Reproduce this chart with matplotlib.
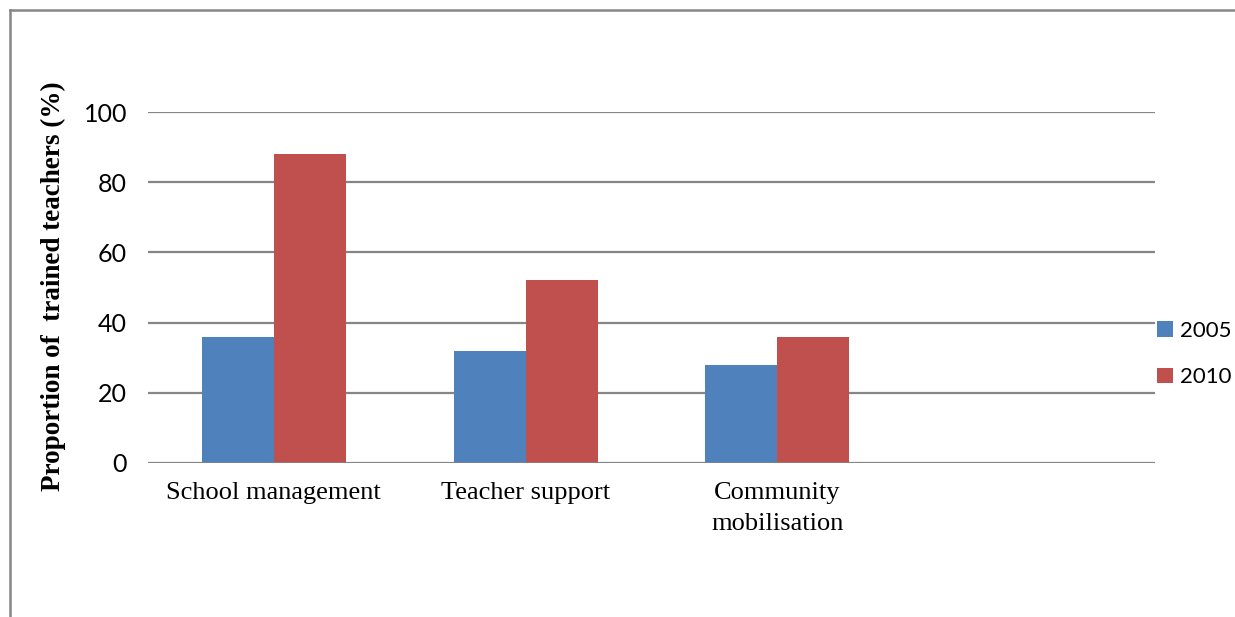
import matplotlib
matplotlib.use("Agg")
import matplotlib.pyplot as plt
import numpy as np
from matplotlib.lines import Line2D
from matplotlib.patches import Patch

# Training areas and share of trained teachers (%)
categories = ["School management", "Teacher support", "Community\nmobilisation"]
series_names = ["2005", "2010"]
values_2005 = [36, 32, 28]
values_2010 = [88, 52, 36]
y_ticks = [0, 20, 40, 60, 80, 100]

colors = ["#4F81BD", "#C0504D"]
grid_color = "#868686"
n_slots = 4  # category axis leaves one empty slot on the right

W, H = 1235, 617
fig = plt.figure(figsize=(W / 100, H / 100), dpi=100)
ax = fig.add_axes([148 / W, 1 - 463 / H, (1155 - 148) / W, (463 - 112) / H])

x = np.arange(len(categories))
bar_w = 1 / 3.5
ax.bar(x - bar_w / 2, values_2005, width=bar_w, color=colors[0], linewidth=0)
ax.bar(x + bar_w / 2, values_2010, width=bar_w, color=colors[1], linewidth=0)

ax.set_xlim(-0.5, n_slots - 0.5)
ax.set_ylim(0, 100)
ax.set_yticks(y_ticks)
ax.set_yticklabels([str(t) for t in y_ticks], fontfamily="Lato", fontsize=18)
ax.set_xticks(x)
ax.set_xticklabels(categories, fontfamily="Liberation Serif", fontsize=19)
for lab in ax.get_xticklabels():
    lab.set_linespacing(1.5)

ax.tick_params(axis="both", length=0)
ax.tick_params(axis="y", pad=15)
ax.tick_params(axis="x", pad=14)
for s in ax.spines.values():
    s.set_visible(False)
ax.yaxis.grid(True, color=grid_color, linewidth=1.6)
ax.set_axisbelow(True)
ax.axhline(0, color=grid_color, linewidth=1.8, zorder=3)

ax.set_ylabel("Proportion of  trained teachers (%)", fontfamily="Liberation Serif",
              fontweight="bold", fontsize=19.5)
ax.yaxis.set_label_coords((66 - 148) / (1155 - 148), (463 - 286) / (463 - 112))

handles = [Patch(facecolor=c, edgecolor="none") for c in colors]
fig.legend(handles, series_names, loc="center left",
           bbox_to_anchor=(1157 / W, 1 - 354 / H), frameon=False, borderpad=0,
           borderaxespad=0, prop={"family": "Lato", "size": 16}, handlelength=0.7,
           handleheight=0.7, handletextpad=0.35, labelspacing=1.2)

# outer chart frame (top and left edges)
fig.add_artist(Line2D([10 / W, 1.0], [1 - 10 / H, 1 - 10 / H], color=grid_color,
                      linewidth=1.8, transform=fig.transFigure))
fig.add_artist(Line2D([10 / W, 10 / W], [0, 1 - 10 / H], color=grid_color,
                      linewidth=1.8, transform=fig.transFigure))

fig.savefig("out.png", dpi=100, facecolor="white")
